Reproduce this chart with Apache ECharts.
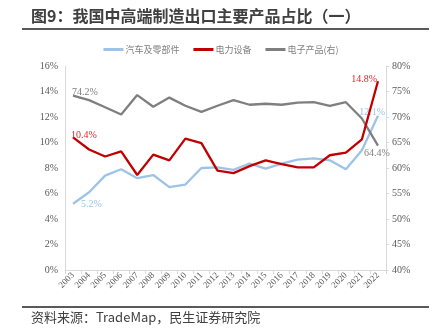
<!DOCTYPE html>
<html>
<head>
<meta charset="utf-8">
<script src="https://cdn.jsdelivr.net/npm/echarts@6/dist/echarts.min.js"></script>
<style>
  html, body { margin: 0; padding: 0; background: #fff; }
  #chart { width: 442px; height: 329px; }
</style>
</head>
<body>
<div id="chart"></div>
<script>
// Years on the category axis
const years = ['2003','2004','2005','2006','2007','2008','2009','2010','2011','2012',
               '2013','2014','2015','2016','2017','2018','2019','2020','2021','2022'];

// Share of exports, percent
const autoParts = [5.2, 6.1, 7.4, 7.9, 7.2, 7.45, 6.5, 6.7, 8.0, 8.05,
                   7.85, 8.35, 7.95, 8.35, 8.65, 8.75, 8.6, 7.9, 9.4, 12.1];
const powerEquip = [10.4, 9.45, 8.9, 9.3, 7.45, 9.05, 8.6, 10.3, 9.95, 7.8,
                    7.6, 8.15, 8.6, 8.3, 8.05, 8.05, 9.0, 9.2, 10.25, 14.8];
const electronics = [74.2, 73.3, 71.9, 70.5, 74.3, 72.0, 73.8, 72.2, 71.0, 72.2,
                     73.3, 72.4, 72.6, 72.4, 72.8, 72.9, 72.2, 72.9, 69.7, 64.4];

const seriesNames = ['汽车及零部件', '电力设备', '电子产品(右)'];
const leftTicks = { min: 0, max: 16, interval: 2 };
const rightTicks = { min: 40, max: 80, interval: 5 };

const serif = 'Liberation Serif';
const axisGray = '#595959';
const lineBlue = '#9dc3e6';
const lineRed = '#c00000';
const lineGray = '#7f7f7f';

// Attach value labels to the first and last points of a series
function withEndLabels(values, color, firstLabel, lastLabel) {
  return values.map((v, i) => {
    const cfg = i === 0 ? firstLabel : (i === values.length - 1 ? lastLabel : null);
    if (!cfg) return v;
    return {
      value: v,
      label: Object.assign({
        show: true,
        formatter: (p) => p.value.toFixed(1) + '%',
        color: color,
        fontFamily: serif,
        fontSize: 10
      }, cfg)
    };
  });
}

function lineSeries(name, axisIndex, color, z, data) {
  return {
    name: name,
    type: 'line',
    yAxisIndex: axisIndex,
    showSymbol: true,
    symbol: 'circle',
    symbolSize: 0,
    lineStyle: { color: color, width: 2.3 },
    itemStyle: { color: color },
    z: z,
    data: data
  };
}

const chart = echarts.init(document.getElementById('chart'), null, { renderer: 'canvas' });

chart.setOption({
  animation: false,
  backgroundColor: '#fff',
  grid: { left: 65, right: 56, top: 66, bottom: 59, containLabel: false },
  legend: {
    data: seriesNames,
    top: 40,
    left: 'center',
    icon: 'rect',
    itemWidth: 20,
    itemHeight: 3,
    itemGap: 14,
    textStyle: { color: '#7f7f7f', fontSize: 9, fontFamily: 'Noto Sans CJK SC', padding: [0, 0, 0, -3] }
  },
  graphic: [
    {
      type: 'text', left: 31, top: 8,
      style: {
        text: '图9：我国中高端制造出口主要产品占比（一）',
        fill: '#404040',
        font: 'bold 16px "Noto Sans CJK SC"'
      }
    },
    { type: 'rect', shape: { x: 22, y: 28, width: 407, height: 2 }, style: { fill: '#595959' } },
    { type: 'rect', shape: { x: 22, y: 306, width: 407, height: 2 }, style: { fill: '#595959' } },
    {
      type: 'text', left: 31, top: 311,
      style: {
        text: '资料来源：TradeMap，民生证券研究院',
        fill: '#404040',
        font: '13px "Noto Sans CJK SC"'
      }
    }
  ],
  xAxis: {
    type: 'category',
    data: years,
    boundaryGap: true,
    axisLine: { lineStyle: { color: '#d9d9d9', width: 1 } },
    axisTick: { show: true, length: 4, lineStyle: { color: '#d9d9d9' } },
    axisLabel: {
      rotate: 45, interval: 0, color: axisGray, fontFamily: serif, fontSize: 9, margin: 4
    }
  },
  yAxis: [
    {
      type: 'value',
      min: leftTicks.min, max: leftTicks.max, interval: leftTicks.interval,
      position: 'left',
      axisLine: { show: true, lineStyle: { color: '#d9d9d9' } },
      axisTick: { show: false },
      splitLine: { show: false },
      axisLabel: { formatter: '{value}%', color: axisGray, fontFamily: serif, fontSize: 10, margin: 7 }
    },
    {
      type: 'value',
      min: rightTicks.min, max: rightTicks.max, interval: rightTicks.interval,
      position: 'right',
      axisLine: { show: true, lineStyle: { color: '#d9d9d9' } },
      axisTick: { show: true, length: 3, lineStyle: { color: '#d9d9d9' } },
      splitLine: { show: false },
      axisLabel: { formatter: '{value}%', color: axisGray, fontFamily: serif, fontSize: 10, margin: 6 }
    }
  ],
  series: [
    lineSeries(seriesNames[0], 0, lineBlue, 2, withEndLabels(autoParts, lineBlue,
      { position: 'right', distance: 8, offset: [0, 1] },
      { position: 'left', distance: 2, offset: [9, -3] })),
    lineSeries(seriesNames[1], 0, lineRed, 4, withEndLabels(powerEquip, '#d42b2b',
      { position: 'right', distance: 0, offset: [-2, -2] },
      { position: 'left', distance: 1, offset: [0, -2] })),
    lineSeries(seriesNames[2], 1, lineGray, 3, withEndLabels(electronics, lineGray,
      { position: 'right', distance: 0, offset: [-1, -3] },
      { position: 'bottom', distance: 3, offset: [-1, 0] }))
  ]
});
</script>
</body>
</html>
